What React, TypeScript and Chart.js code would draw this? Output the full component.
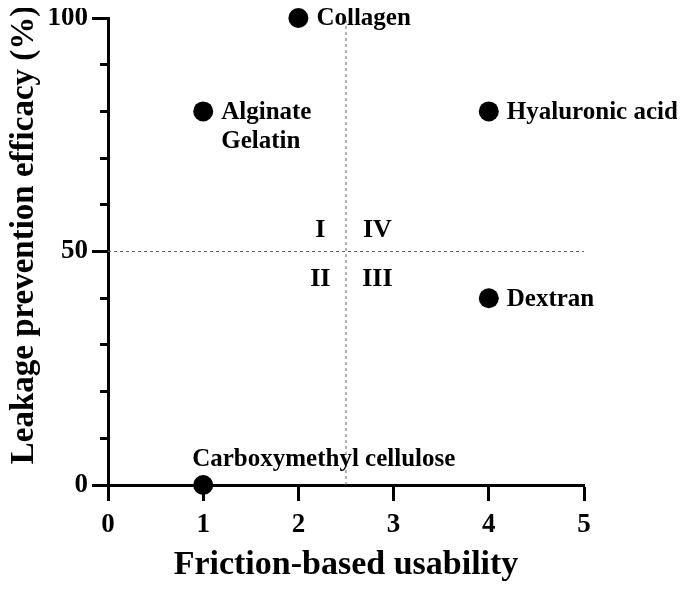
import React, { useEffect, useRef } from 'react';
import { Chart, registerables } from 'chart.js';

Chart.register(...registerables);

// ---- data ----
const pointNames = ['Alginate\nGelatin', 'Collagen', 'Hyaluronic acid', 'Dextran', 'Carboxymethyl cellulose'];
const usability = [1, 2, 4, 4, 1];
const efficacy = [80, 100, 80, 40, 0];
const labelSides = ['right', 'right', 'right', 'right', 'above'];

const quadrantNames = ['I', 'IV', 'II', 'III'];
const quadrantX = [2.23, 2.83, 2.23, 2.83];
const quadrantY = [54.5, 54.5, 44, 44];

const dividerX = 2.5;
const dividerY = 50;

const xMin = 0;
const xMax = 5;
const xStep = 1;
const yMin = 0;
const yMax = 100;
const yMinorStep = 10;
const yMajorTicks = [0, 50, 100];

const xTitle = 'Friction-based usability';
const yTitle = 'Leakage prevention efficacy (%)';

const SERIF = '"Liberation Serif", "Times New Roman", serif';
const W = 677;
const H = 574;

const labelPlugin = {
  id: 'pointAndQuadrantLabels',
  afterDatasetsDraw(chart: any) {
    const ctx = chart.ctx;
    const meta = chart.getDatasetMeta(0);
    ctx.save();
    ctx.fillStyle = '#000';
    ctx.font = `bold 25px ${SERIF}`;
    ctx.textBaseline = 'middle';
    ctx.textAlign = 'left';
    meta.data.forEach((el: any, i: number) => {
      const lines = pointNames[i].split('\n');
      lines.forEach((line: string, j: number) => {
        if (labelSides[i] === 'right') {
          ctx.fillText(line, el.x + 18, el.y + 1 + j * 29);
        } else {
          ctx.fillText(line, el.x - 11, el.y - 25);
        }
      });
    });
    const xs = chart.scales.x;
    const ys = chart.scales.y;
    ctx.font = `bold 26px ${SERIF}`;
    ctx.textAlign = 'center';
    quadrantNames.forEach((q, i) => {
      ctx.fillText(q, xs.getPixelForValue(quadrantX[i]), ys.getPixelForValue(quadrantY[i]));
    });
    ctx.restore();
  },
};

export default function App() {
  const ref = useRef<HTMLCanvasElement | null>(null);

  useEffect(() => {
    if (!ref.current) return;
    const chart = new Chart(ref.current, {
      type: 'scatter',
      data: {
        datasets: [
          {
            label: 'materials',
            data: usability.map((x, i) => ({ x, y: efficacy[i] })),
            backgroundColor: '#000',
            borderColor: '#000',
            borderWidth: 0,
            pointRadius: 10,
            clip: false,
          } as any,
          {
            label: 'vdiv',
            type: 'line',
            data: [
              { x: dividerX, y: yMin },
              { x: dividerX, y: yMax },
            ],
            borderColor: '#666',
            borderWidth: 1,
            borderDash: [3, 3],
            pointRadius: 0,
            showLine: true,
            fill: false,
          } as any,
          {
            label: 'hdiv',
            type: 'line',
            data: [
              { x: xMin, y: dividerY },
              { x: xMax, y: dividerY },
            ],
            borderColor: '#666',
            borderWidth: 1,
            borderDash: [3, 3],
            pointRadius: 0,
            showLine: true,
            fill: false,
          } as any,
        ],
      },
      options: {
        responsive: false,
        animation: false,
        layout: { padding: { left: 0, top: 5, right: W - 576, bottom: 0 } },
        plugins: {
          legend: { display: false },
          tooltip: { enabled: false },
        },
        scales: {
          x: {
            type: 'linear',
            min: xMin,
            max: xMax,
            ticks: {
              stepSize: xStep,
              color: '#000',
              font: { family: SERIF, size: 27, weight: 'bold' },
              padding: 8,
            },
            grid: {
              drawOnChartArea: false,
              tickLength: 16,
              tickWidth: 3,
              tickColor: '#000',
            },
            border: { color: '#000', width: 3 },
            title: {
              display: true,
              text: xTitle,
              color: '#000',
              font: { family: SERIF, size: 34, weight: 'bold', lineHeight: 1 },
              padding: 0,
            },
            afterFit: (s: any) => {
              s.height = 97;
              s.paddingLeft = 0;
              s.paddingRight = 0;
            },
          },
          y: {
            type: 'linear',
            min: yMin,
            max: yMax,
            ticks: {
              stepSize: yMinorStep,
              autoSkip: false,
              color: '#000',
              font: { family: SERIF, size: 27, weight: 'bold' },
              padding: 4,
              callback: (v: any) => (yMajorTicks.includes(Number(v)) ? String(v) : ''),
            },
            grid: {
              drawOnChartArea: false,
              tickLength: 16,
              tickWidth: 3,
              tickColor: '#000',
              tickBorderDash: (ctx: any) =>
                ctx.tick && yMajorTicks.includes(ctx.tick.value) ? [] : [0, 8, 30],
            },
            border: { color: '#000', width: 3 },
            title: {
              display: true,
              text: '    ' + yTitle,
              color: '#000',
              font: { family: SERIF, size: 33, weight: 'bold', lineHeight: 1 },
              padding: 0,
            },
            afterFit: (s: any) => {
              s.width = 100;
              s.paddingTop = 0;
              s.paddingBottom = 0;
            },
          },
        },
      } as any,
      plugins: [labelPlugin],
    });
    return () => chart.destroy();
  }, []);

  return (
    <div style={{ width: W, height: H }}>
      <canvas ref={ref} width={W} height={H} style={{ display: 'block' }} />
    </div>
  );
}
